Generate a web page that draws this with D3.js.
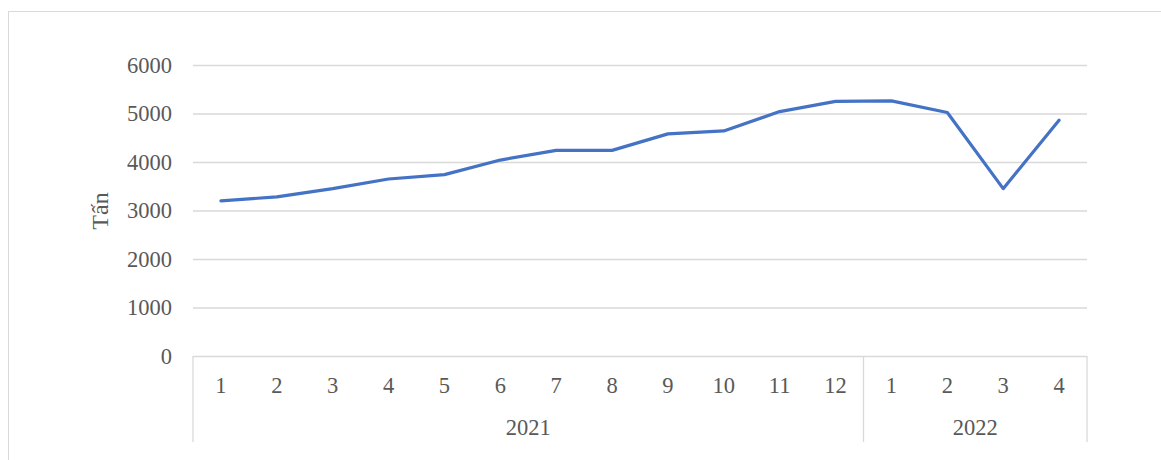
<!DOCTYPE html>
<meta charset="utf-8">
<html lang="en">
<head>
<script src="https://d3js.org/d3.v7.min.js"></script>
<style>
  body { margin: 0; background: #fff; }
  text { font-family: "Liberation Serif", "Times New Roman", serif; fill: #595959; }
</style>
</head>
<body>
<svg></svg>
<script>
// data
var months = ["1","2","3","4","5","6","7","8","9","10","11","12","1","2","3","4"];
var years = ["2021", "2022"];
var yearCounts = [12, 4];
var values = [3200, 3280, 3450, 3650, 3740, 4040, 4240, 4240, 4580, 4640, 5040, 5250, 5260, 5020, 3450, 4860];
var yTicks = [0, 1000, 2000, 3000, 4000, 5000, 6000];

let width = 1161, height = 460;
let svg = d3.select("svg").attr("width", width).attr("height", height);

// chart border
svg.append("rect").attr("x", 8.5).attr("y", 11.5)
    .attr("width", 1170).attr("height", 470)
    .attr("fill", "none").attr("stroke", "#d9d9d9").attr("stroke-width", 1);

let plotLeft = 193, plotRight = 1087, plotTop = 65, plotBottom = 356;

var x = d3.scaleBand().domain(d3.range(months.length)).range([plotLeft, plotRight]).padding(0);
var y = d3.scaleLinear().domain([0, 6000]).range([plotBottom, plotTop]);

// gridlines
svg.append("g").selectAll("line").data(yTicks.filter(d => d > 0)).enter()
    .append("line")
    .attr("x1", plotLeft).attr("x2", plotRight)
    .attr("y1", d => y(d) + 0.5).attr("y2", d => y(d) + 0.5)
    .attr("stroke", "#d9d9d9").attr("stroke-width", 1.3);

// y tick labels
svg.append("g").selectAll("text").data(yTicks).enter()
    .append("text")
    .attr("x", 172).attr("y", d => y(d))
    .attr("dy", "0.35em")
    .attr("text-anchor", "end")
    .style("font-size", "22.5px")
    .text(d => d);

// y title
svg.append("text")
    .attr("transform", "translate(108,211) rotate(-90)")
    .attr("text-anchor", "middle")
    .style("font-size", "24px")
    .text("Tấn");

// x axis line
svg.append("line").attr("x1", plotLeft).attr("x2", plotRight)
    .attr("y1", plotBottom + 0.5).attr("y2", plotBottom + 0.5)
    .attr("stroke", "#d9d9d9").attr("stroke-width", 1.3);

// group separators
var bounds = [0];
yearCounts.forEach(function(c, i) { bounds.push(bounds[i] + c); });
function edge(k) { return k < months.length ? x(k) : plotRight; }
svg.append("g").selectAll("line").data(bounds).enter()
    .append("line")
    .attr("x1", d => edge(d))
    .attr("x2", d => edge(d))
    .attr("y1", plotBottom).attr("y2", 442)
    .attr("stroke", "#d9d9d9").attr("stroke-width", 1.3);

// month labels
svg.append("g").selectAll("text").data(months).enter()
    .append("text")
    .attr("x", (d, i) => x(i) + x.bandwidth() / 2)
    .attr("y", 385)
    .attr("dy", "0.35em")
    .attr("text-anchor", "middle")
    .style("font-size", "22.5px")
    .text(d => d);

// year labels
svg.append("g").selectAll("text").data(years).enter()
    .append("text")
    .attr("x", (d, i) => (edge(bounds[i]) + edge(bounds[i + 1])) / 2)
    .attr("y", 427)
    .attr("dy", "0.35em")
    .attr("text-anchor", "middle")
    .style("font-size", "22.5px")
    .text(d => d);

// line
var line = d3.line()
    .x((d, i) => x(i) + x.bandwidth() / 2)
    .y(d => y(d));

svg.append("path").datum(values)
    .attr("d", line)
    .attr("fill", "none")
    .attr("stroke", "#4472c4")
    .attr("stroke-width", 3.2)
    .attr("stroke-linejoin", "round")
    .attr("stroke-linecap", "round");
</script>
</body>
</html>
